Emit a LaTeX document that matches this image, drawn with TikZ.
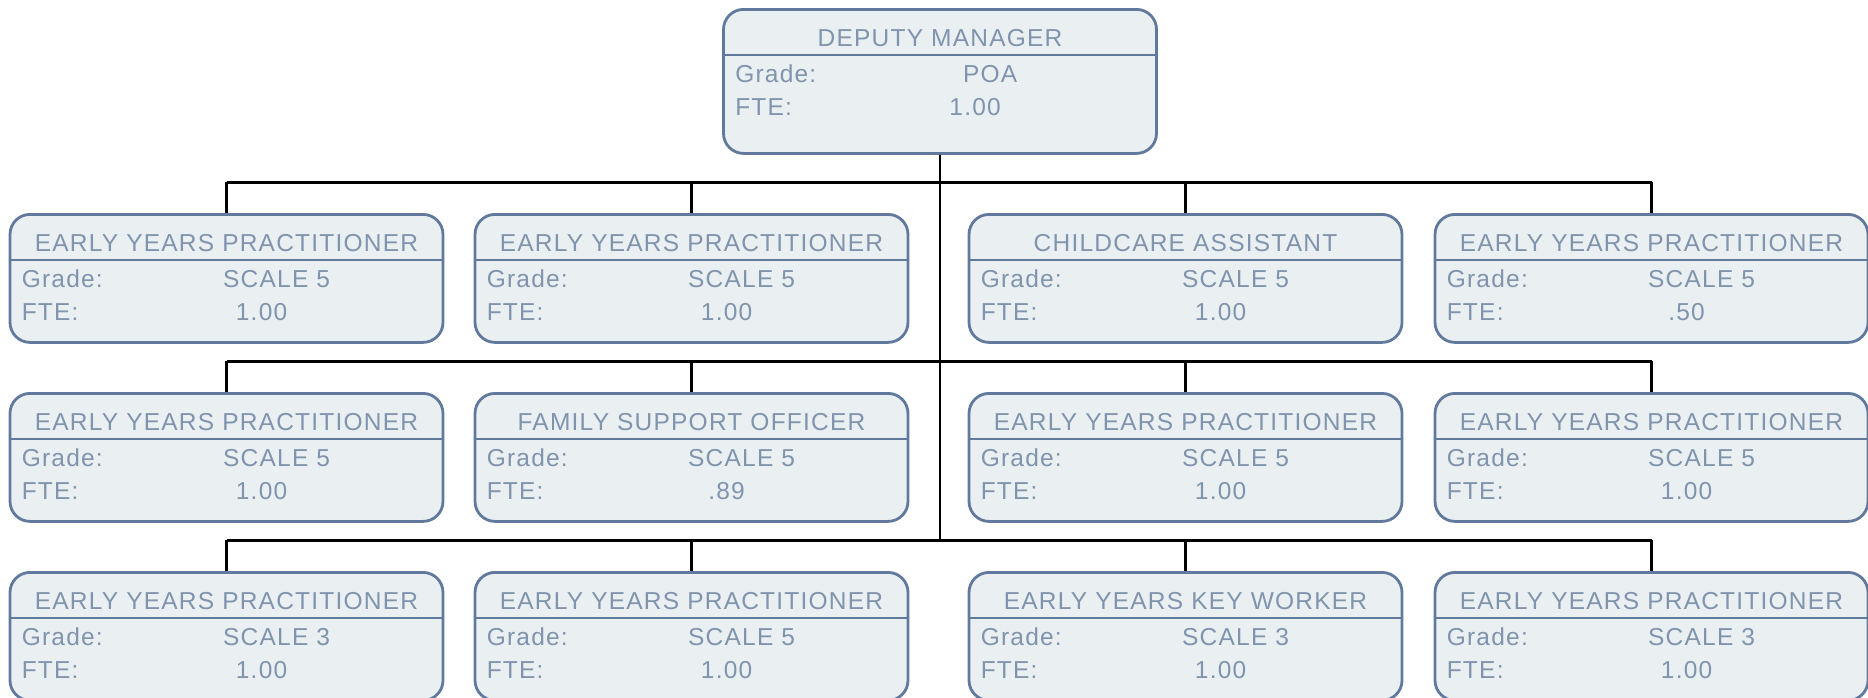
\documentclass[tikz,border=0pt]{standalone}
\usepackage{fontspec}
\setmainfont{Liberation Sans}[LetterSpace=5]
\usepackage{tikz}
\usetikzlibrary{calc}
\definecolor{postline}{RGB}{96,121,156}
\definecolor{postfill}{RGB}{234,239,242}
\definecolor{posttext}{RGB}{128,148,174}
% one post: name, centre x, top y, height, title, grade, fte
\newcommand{\post}[7]{%
  \node[post, minimum height=#4] (#1) at (#2,#3) {};
  \draw[rule] ($(#1.north west)+(0,47)$) -- ($(#1.north east)+(0,47)$);
  \node[lab, anchor=base] at ($(#1.north)+(0,38)$) {#5};
  \node[lab, anchor=base west] at ($(#1.north west)+(13,74)$) {Grade:};
  \node[lab, anchor=base] at ($(#1.north west)+(268,74)$) {#6};
  \node[lab, anchor=base west] at ($(#1.north west)+(13,107)$) {FTE:};
  \node[lab, anchor=base] at ($(#1.north west)+(253,107)$) {#7};
}
\begin{document}
\begin{tikzpicture}[x=1pt,y=-1pt,
  post/.style={draw=postline, fill=postfill, line width=2.8pt, rounded corners=20pt,
    minimum width=433pt, inner sep=0pt, anchor=north},
  rule/.style={postline, line width=2.8pt},
  lab/.style={text=posttext, inner sep=0pt, font=\fontsize{24.5}{28}\selectfont},
  wire/.style={black, line width=2.4pt},
  bus/.style={black, line width=3pt},
]
\useasboundingbox (0,0) rectangle (1868,697);
\post{dm}{940}{8}{144}{DEPUTY MANAGER}{POA}{1.00}
\post{r1a}{226.5}{213}{128}{EARLY YEARS PRACTITIONER}{SCALE 5}{1.00}
\post{r1b}{691.5}{213}{128}{EARLY YEARS PRACTITIONER}{SCALE 5}{1.00}
\post{r1c}{1185.5}{213}{128}{CHILDCARE ASSISTANT}{SCALE 5}{1.00}
\post{r1d}{1651.5}{213}{128}{EARLY YEARS PRACTITIONER}{SCALE 5}{.50}
\post{r2a}{226.5}{392}{128}{EARLY YEARS PRACTITIONER}{SCALE 5}{1.00}
\post{r2b}{691.5}{392}{128}{FAMILY SUPPORT OFFICER}{SCALE 5}{.89}
\post{r2c}{1185.5}{392}{128}{EARLY YEARS PRACTITIONER}{SCALE 5}{1.00}
\post{r2d}{1651.5}{392}{128}{EARLY YEARS PRACTITIONER}{SCALE 5}{1.00}
\post{r3a}{226.5}{571}{128}{EARLY YEARS PRACTITIONER}{SCALE 3}{1.00}
\post{r3b}{691.5}{571}{128}{EARLY YEARS PRACTITIONER}{SCALE 5}{1.00}
\post{r3c}{1185.5}{571}{128}{EARLY YEARS KEY WORKER}{SCALE 3}{1.00}
\post{r3d}{1651.5}{571}{128}{EARLY YEARS PRACTITIONER}{SCALE 3}{1.00}
\coordinate (bus1) at (940,182);
\coordinate (bus2) at (940,361);
\coordinate (bus3) at (940,540);
\draw[wire] (dm.south) -- (bus3);
\foreach \r in {1,2,3} {
  \draw[bus] (r\r a.north |- bus\r) -- (r\r d.north |- bus\r);
  \foreach \c in {a,b,c,d}
    \draw[wire] (r\r\c.north |- bus\r) -- (r\r\c.north);
}
\end{tikzpicture}
\end{document}
